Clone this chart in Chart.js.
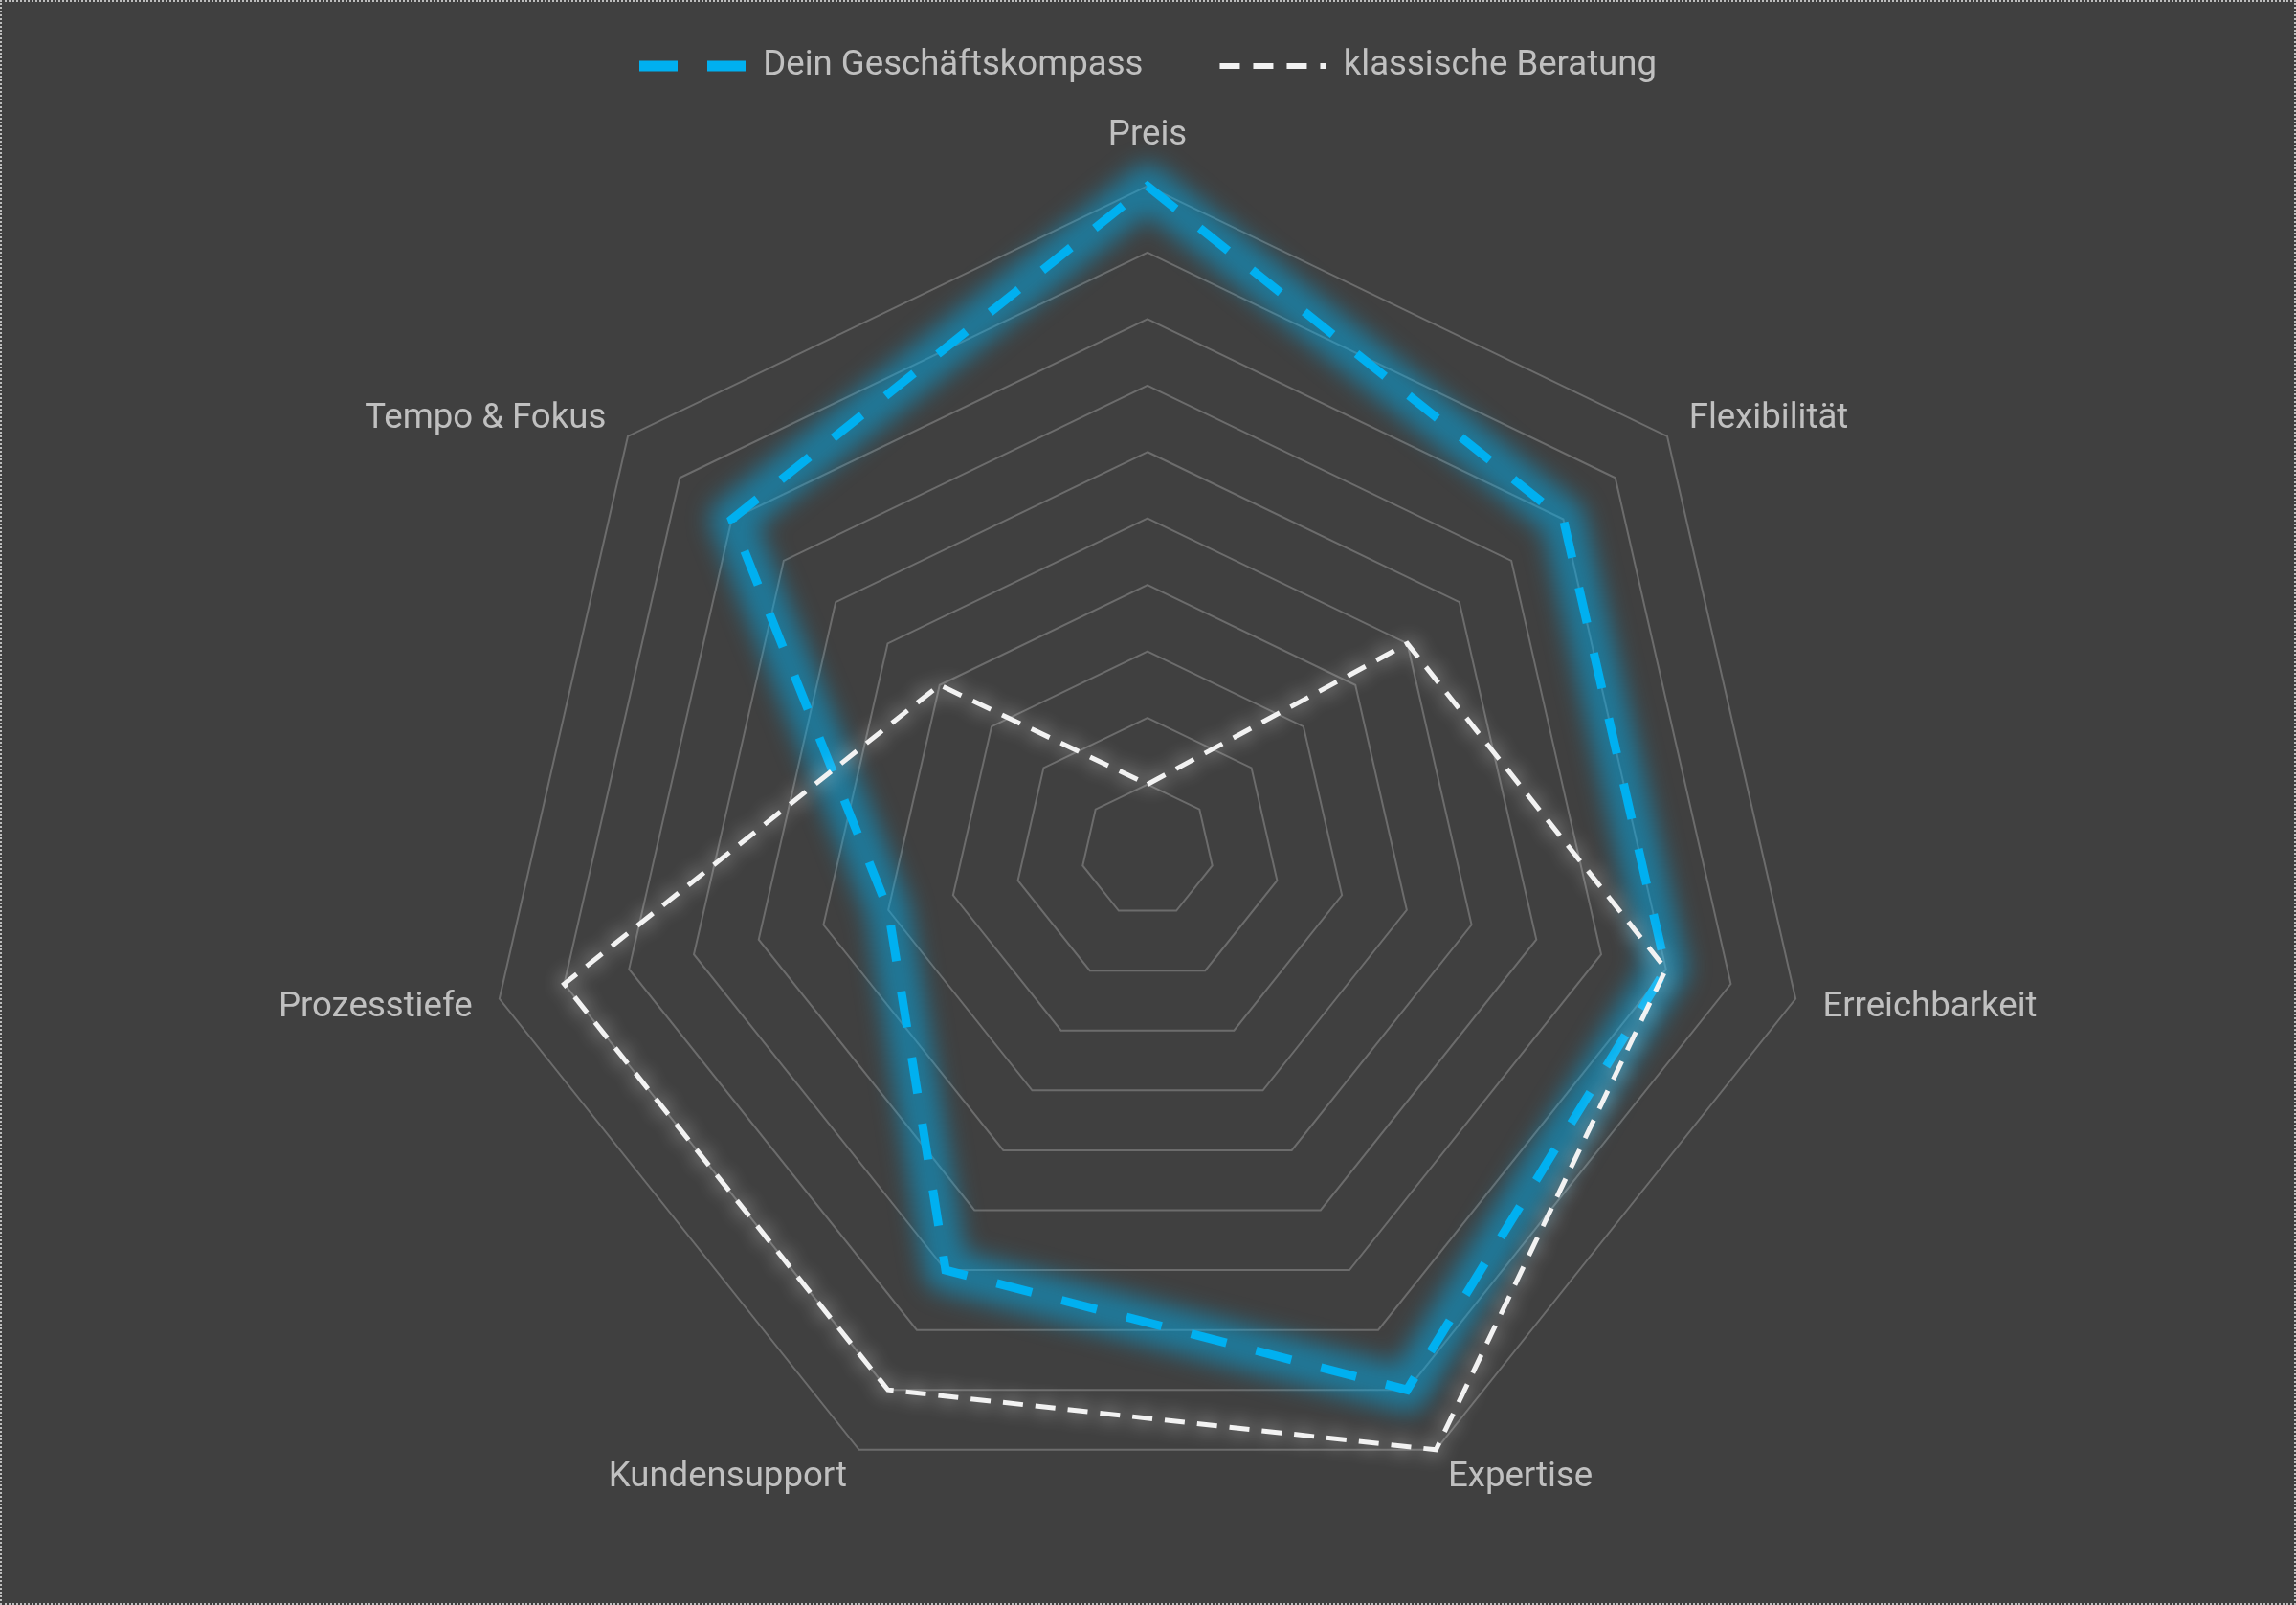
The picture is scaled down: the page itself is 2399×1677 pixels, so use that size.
<!DOCTYPE html>
<html><head><meta charset="utf-8">
<script src="https://cdn.jsdelivr.net/npm/chart.js@4.4.1/dist/chart.umd.min.js"></script>
<style>
html,body{margin:0;padding:0;background:#404040;overflow:hidden;}
#wrap{position:absolute;left:0;top:0;width:2399px;height:1677px;background:#404040;}
#frame{position:absolute;left:0;top:0;width:2399px;height:1677px;box-sizing:border-box;border:2px dotted #bdbdbd;pointer-events:none;}
</style></head><body>
<div id="wrap"><canvas id="c"></canvas><div id="frame"></div></div>
<script>
// ---- data ----
const categories = ['Preis', 'Flexibilität', 'Erreichbarkeit', 'Expertise', 'Kundensupport', 'Prozesstiefe', 'Tempo & Fokus'];
const seriesNames = ['Dein Geschäftskompass', 'klassische Beratung'];
const kompassValues = [10, 8, 8, 9, 7, 4, 8];
const beratungValues = [1, 5, 8, 10, 9, 9, 4];
const scaleMin = 0;
const scaleMax = 10;
const scaleStep = 1;

// ---- font choice (narrow grotesque preferred) ----
function available(fam) {
  const c = document.createElement('canvas').getContext('2d');
  c.font = '100px monospace';
  const a = c.measureText('Dein Geschäftskompass').width;
  c.font = '100px ' + fam + ', monospace';
  const b = c.measureText('Dein Geschäftskompass').width;
  return Math.abs(a - b) > 1;
}
let family = "'Liberation Sans Narrow'";
if (!available(family)) family = "Roboto";
const mctx = document.createElement('canvas').getContext('2d');
mctx.font = '100px ' + family;
const fs = Math.round(397 / mctx.measureText('Dein Geschäftskompass').width * 1000) / 10;

// ---- layout targets ----
const textColor = '#c0c0c0';
const legendPad = 80;
const legendCenterY = 69;
const padTop = legendCenterY - legendPad - fs / 2;
const chartTop = padTop + fs + legendPad + 10;
const targetCenterY = 890, targetR = 695;
const ringTop = targetCenterY - targetR;
const topLabelY = 142;
const M = (ringTop - chartTop) / 1.5;
const p0 = 2 * (M - (topLabelY - chartTop));
const h0 = M - p0;
const halfH = targetR + M;
const padBottom = 1677 - (chartTop + 2 * halfH);

const glowPlugin = {
  id: 'glow',
  beforeDatasetDraw(chart, args) {
    const ctx = chart.ctx;
    if (args.index === 0) {
      const pts = args.meta.data;
      ctx.save();
      ctx.filter = 'blur(12px)';
      ctx.strokeStyle = 'rgba(0,176,240,0.5)';
      ctx.lineWidth = 46;
      ctx.lineJoin = 'round';
      ctx.beginPath();
      pts.forEach((p, i) => { if (i) ctx.lineTo(p.x, p.y); else ctx.moveTo(p.x, p.y); });
      ctx.closePath();
      ctx.stroke();
      ctx.restore();
    }
    ctx.save();
    if (args.index === 1) {
      ctx.shadowColor = 'rgba(255,255,255,0.95)';
      ctx.shadowBlur = 20;
    }
  },
  afterDatasetDraw(chart) { chart.ctx.restore(); }
};

new Chart(document.getElementById('c'), {
  type: 'radar',
  data: {
    labels: categories,
    datasets: [
      { label: seriesNames[0], data: kompassValues, borderColor: '#00B0F0', borderWidth: 9,
        borderDash: [38, 32], fill: false, pointRadius: 0, pointHoverRadius: 0, order: 1 },
      { label: seriesNames[1], data: beratungValues, borderColor: '#F2F2F2', borderWidth: 5,
        borderDash: [21, 13], fill: false, pointRadius: 0, pointHoverRadius: 0, order: 0 }
    ]
  },
  options: {
    responsive: true, maintainAspectRatio: false, animation: false, devicePixelRatio: 1,
    layout: { padding: { top: padTop, bottom: padBottom, left: 0, right: 0 } },
    plugins: {
      tooltip: { enabled: false },
      legend: {
        position: 'top',
        labels: {
          color: textColor, padding: legendPad, usePointStyle: true, pointStyleWidth: 111,
          font: { family: family, size: fs },
          generateLabels(chart) {
            const widths = [11, 6];
            return chart.data.datasets.map((ds, i) => ({
              text: ds.label, fillStyle: 'rgba(0,0,0,0)', strokeStyle: ds.borderColor,
              lineWidth: widths[i], lineDash: i === 0 ? [40, 31] : [21, 14], lineDashOffset: 0,
              lineCap: 'butt', pointStyle: 'line', rotation: 180, hidden: false,
              datasetIndex: i, fontColor: textColor
            }));
          }
        }
      }
    },
    scales: {
      r: {
        min: scaleMin, max: scaleMax, beginAtZero: true,
        ticks: { display: false, stepSize: scaleStep },
        grid: { color: '#6c6c6c', lineWidth: 2 },
        angleLines: { display: false },
        pointLabels: {
          color: textColor,
          font: (c) => ({ family: family, size: fs,
            lineHeight: c.index === 0 ? h0 / fs : (c.index >= 2 && c.index <= 5 ? 6 / fs : 0.02) }),
          padding: (c) => c.index === 0 ? p0 : 29
        }
      }
    }
  },
  plugins: [glowPlugin]
});
</script>
</body></html>
